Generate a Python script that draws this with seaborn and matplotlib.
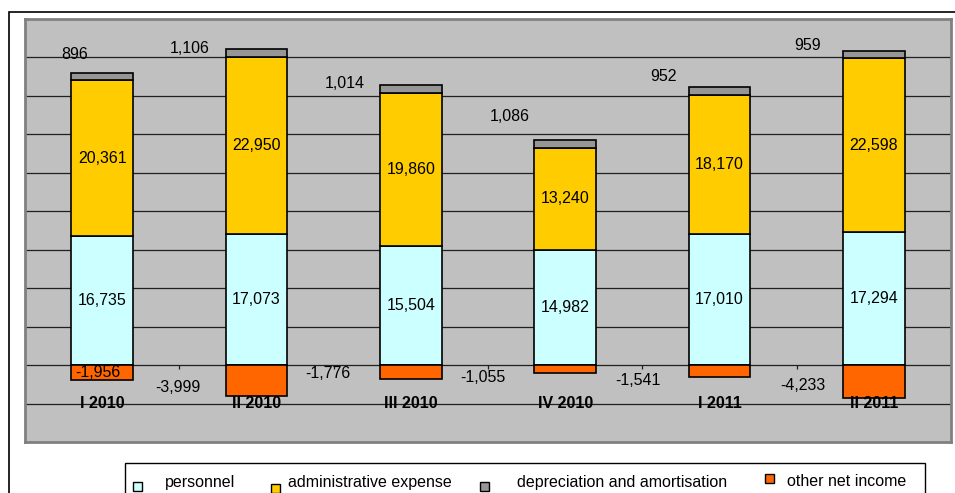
import matplotlib
matplotlib.use("Agg")
import matplotlib.pyplot as plt
from matplotlib.patches import Rectangle
import numpy as np
import pandas as pd
import seaborn as sns

# Quarterly cost structure (thousands)
quarters = ["I 2010", "II 2010", "III 2010", "IV 2010", "I 2011", "II 2011"]
personnel = [16735, 17073, 15504, 14982, 17010, 17294]
administrative = [20361, 22950, 19860, 13240, 18170, 22598]
depreciation = [896, 1106, 1014, 1086, 952, 959]
other_net_income = [-1956, -3999, -1776, -1055, -1541, -4233]

series_names = ["personnel", "administrative expense",
                "depreciation and amortisation", "other net income"]
series_colors = ["#CCFFFF", "#FFCC00", "#969696", "#FF6600"]

# Label placement for the small series (offset in category units, height in value units)
dep_label_dx = [-0.18, -0.43, -0.43, -0.36, -0.36, -0.43]
dep_label_y = [40440, 41220, 36670, 32380, 37580, 41610]
oni_label_dx = [-0.03, -0.51, -0.54, -0.53, -0.53, -0.46]
oni_label_y = [-910, -2860, -1040, -1560, -1950, -2600]

df = pd.DataFrame({
    "quarter": quarters,
    "personnel": personnel,
    "administrative": administrative,
    "depreciation": depreciation,
    "other": other_net_income,
})
df["admin_base"] = df["personnel"]
df["dep_base"] = df["personnel"] + df["administrative"]

sns.set_style("white")
plt.rcParams["font.family"] = ["Liberation Sans", "DejaVu Sans"]
plt.rcParams["text.color"] = "black"

W, H = 955, 493
fig = plt.figure(figsize=(W / 100, H / 100), dpi=100)
fig.patch.set_facecolor("white")

# Outer frame of the chart object (open on the right and bottom)
fig.patches.append(Rectangle((9 / W, 1 - 1200 / H), 2000 / W, (1200 - 12) / H,
                             transform=fig.transFigure, fill=False,
                             edgecolor="black", lw=1.2, zorder=0))

ax = fig.add_axes([25 / W, 1 - 442 / H, (951 - 25) / W, (442 - 19) / H])
ax.set_facecolor("#C0C0C0")

bar_kw = dict(width=0.4, edgecolor="black", linewidth=1.2, ax=ax, zorder=3)
sns.barplot(data=df, x="quarter", y="personnel", color=series_colors[0],
            saturation=1, **bar_kw)
sns.barplot(data=df, x="quarter", y="administrative", bottom=df["admin_base"],
            color=series_colors[1], saturation=1, **bar_kw)
sns.barplot(data=df, x="quarter", y="depreciation", bottom=df["dep_base"],
            color=series_colors[2], saturation=1, **bar_kw)
sns.barplot(data=df, x="quarter", y="other", color=series_colors[3],
            saturation=1, **bar_kw)

ax.set_xlim(-0.5, 5.5)
ax.set_ylim(-10000, 45000)

# Horizontal grid
for g in range(-5000, 45000, 5000):
    ax.axhline(g, color="#202020", lw=0.9, zorder=1)

# Category separators on the zero line
ax.vlines(np.arange(-0.5, 6.0, 1.0), 0, -550, color="#202020", lw=0.9, zorder=2)

ax.set_xticks([])
ax.set_yticks([])
ax.set_xlabel("")
ax.set_ylabel("")
for s in ax.spines.values():
    s.set_color("#808080")
    s.set_linewidth(2)

fs = 11.5
for i in range(len(quarters)):
    ax.text(i, personnel[i] / 2, f"{personnel[i]:,}", ha="center", va="center",
            fontsize=fs, color="black", zorder=5)
    ax.text(i, personnel[i] + administrative[i] / 2, f"{administrative[i]:,}",
            ha="center", va="center", fontsize=fs, color="black", zorder=5)
    ax.text(i + dep_label_dx[i], dep_label_y[i], f"{depreciation[i]:,}",
            ha="center", va="center", fontsize=fs, color="black", zorder=5)
    ax.text(i + oni_label_dx[i], oni_label_y[i], f"{other_net_income[i]:,}",
            ha="center", va="center", fontsize=fs, color="black", zorder=5)
    ax.text(i, -5000, quarters[i], ha="center", va="center", fontsize=fs,
            fontweight="bold", color="black", zorder=5)

# Legend box drawn in figure pixels
def fx(px):
    return px / W

def fy(py):
    return 1 - py / H

fig.patches.append(Rectangle((fx(125), fy(520)), fx(925) - fx(125), fy(463) - fy(520),
                             transform=fig.transFigure, fill=True, facecolor="white",
                             edgecolor="black", lw=1.0, zorder=1))
marker_pos = [(137, 486), (275, 488), (484, 486), (769, 478)]
text_x = [165, 288, 517, 787]
ms = 9
for (mx, my), tx, name, col in zip(marker_pos, text_x, series_names, series_colors):
    fig.patches.append(Rectangle((fx(mx - ms / 2), fy(my + ms / 2)), ms / W, ms / H,
                                 transform=fig.transFigure, facecolor=col,
                                 edgecolor="black", lw=1.0, zorder=2))
    fig.text(fx(tx), fy(482), name, ha="left", va="center", fontsize=fs,
             color="black")

fig.savefig("out.png", dpi=100)
